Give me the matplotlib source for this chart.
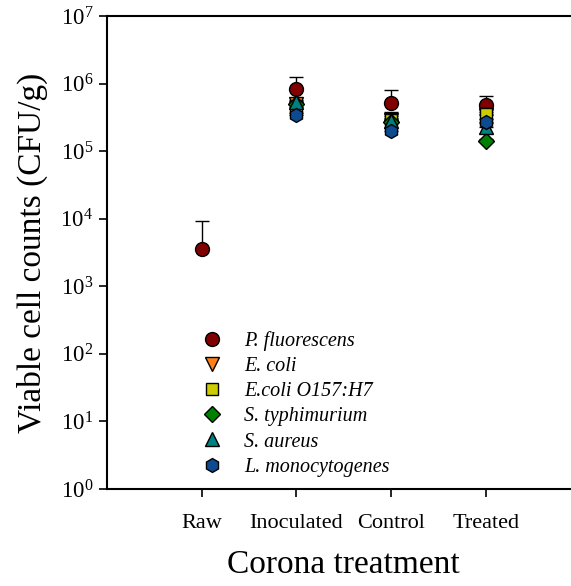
import matplotlib
matplotlib.use("Agg")
import matplotlib.pyplot as plt
import numpy as np

plt.rcParams['font.family'] = ['Liberation Serif', 'DejaVu Serif']
plt.rcParams['mathtext.fontset'] = 'custom'
plt.rcParams['mathtext.rm'] = 'Liberation Serif'
plt.rcParams['mathtext.it'] = 'Liberation Serif:italic'

categories = ['Raw', 'Inoculated', 'Control', 'Treated']
series_names = ['P. fluorescens', 'E. coli', 'E.coli O157:H7', 'S. typhimurium', 'S. aureus', 'L. monocytogenes']

p_fluorescens = [3.6e3, 8.2e5, 5.2e5, 4.8e5]
p_fluorescens_err = [5.8e3, 4.4e5, 2.9e5, 1.8e5]
e_coli = [np.nan, 5.0e5, 2.9e5, 3.4e5]
e_coli_err = [np.nan, 0.5e5, 0.4e5, 0.4e5]
e_coli_o157 = [np.nan, 4.5e5, 2.9e5, 3.6e5]
e_coli_o157_err = [np.nan, 0.5e5, 0.9e5, 0.5e5]
s_typhimurium = [np.nan, 5.0e5, 2.7e5, 1.4e5]
s_typhimurium_err = [np.nan, 0.4e5, 0.3e5, 0.1e5]
s_aureus = [np.nan, 5.3e5, 2.8e5, 2.3e5]
s_aureus_err = [np.nan, 0.4e5, 0.3e5, 0.3e5]
l_monocytogenes = [np.nan, 3.4e5, 2.0e5, 2.7e5]
l_monocytogenes_err = [np.nan, 0.3e5, 0.2e5, 0.3e5]

values = [p_fluorescens, e_coli, e_coli_o157, s_typhimurium, s_aureus, l_monocytogenes]
errors = [p_fluorescens_err, e_coli_err, e_coli_o157_err, s_typhimurium_err, s_aureus_err, l_monocytogenes_err]
markers = ['o', 'v', 's', 'D', '^', 'h']
colors = ['#800000', '#FF7F1A', '#CCCC00', '#008000', '#008080', '#0D4A8F']
msizes = [10, 9.5, 9, 8.5, 9.5, 10]

fig = plt.figure(figsize=(5.71, 5.86), dpi=100)
ax = fig.add_axes([107/571, 1-489/586, 473.5/571, 473/586])

x = np.arange(1, len(categories) + 1)
for name, v, e, m, c, ms in zip(series_names, values, errors, markers, colors, msizes):
    v = np.array(v, dtype=float)
    e = np.array(e, dtype=float)
    ax.errorbar(x, v, yerr=[np.zeros_like(e), e], fmt='none', ecolor='black',
                elinewidth=1, capsize=5, capthick=1, zorder=2)
    ax.plot(x, v, linestyle='none', marker=m, markersize=ms, markerfacecolor=c,
            markeredgecolor='black', markeredgewidth=1, label=name, zorder=3)

ax.set_yscale('log')
ax.set_ylim(1, 1e7)
ax.set_xlim(0, 5)
ax.set_xticks(x)
ax.set_xticklabels(categories, fontsize=16)
yt = [10.0**k for k in range(0, 8)]
ax.set_yticks(yt)
ax.set_yticklabels([r'$\mathregular{10^{%d}}$' % k for k in range(0, 8)], fontsize=16.5)
ax.minorticks_off()
ax.tick_params(axis='both', direction='out', length=6, width=1.2, color='black')
ax.tick_params(axis='x', pad=12)
ax.tick_params(axis='y', pad=4)

for s in ['left', 'bottom', 'top']:
    ax.spines[s].set_linewidth(1.5)
ax.spines['right'].set_visible(False)

ax.set_xlabel('Corona treatment', fontsize=24, labelpad=12)
ax.set_ylabel('Viable cell counts (CFU/g)', fontsize=24, labelpad=9)

leg = ax.legend(loc='upper left', bbox_to_anchor=(83/473.5, 1-(321-16)/473), frameon=False,
                prop={'family': 'Liberation Serif', 'style': 'italic', 'size': 14.5},
                handlelength=1.2, handletextpad=1.0, labelspacing=0.3, borderpad=0,
                numpoints=1)

fig.savefig('out.png', dpi=100)
